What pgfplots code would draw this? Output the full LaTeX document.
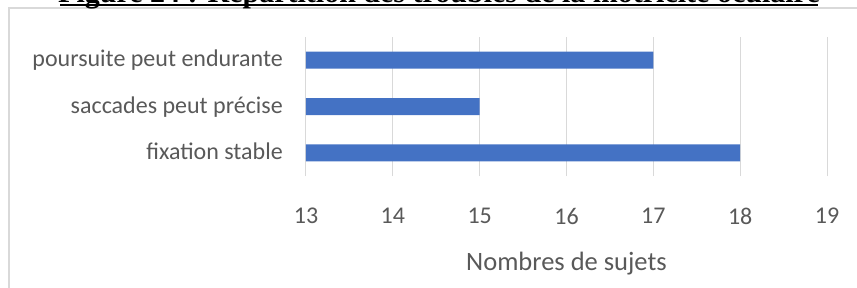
\documentclass[border=0pt]{standalone}
\usepackage{fontspec}
\setmainfont{Carlito}
\newfontfamily\titlefamily{Liberation Serif}
\usepackage{pgfplots}
\pgfplotsset{compat=1.18}
\definecolor{barblue}{HTML}{4472C4}
\definecolor{gridgray}{HTML}{D9D9D9}
\definecolor{textgray}{HTML}{595959}
\begin{document}
\begin{tikzpicture}[x=1pt,y=1pt]
\useasboundingbox (0,0) rectangle (857,287);
\clip (0,0) rectangle (857,287);
\draw[gridgray, line width=1.2pt] (9,-5) -- (9,279) -- (870,279);
\node[anchor=base, inner sep=0pt, font=\titlefamily\bfseries\fontsize{30}{34}\selectfont] at (439,284) {Figure 24 : Répartition des troubles de la motricité oculaire};
\fill[black] (60,281) rectangle (818,283);
\begin{axis}[
 at={(306pt,111pt)}, anchor=south west,
 scale only axis, width=521pt, height=139pt,
 xmin=13, xmax=19, ymin=-0.5, ymax=2.5,
 xtick={13,14,15,16,17,18,19}, ytick={0,1,2},
 yticklabels={{fixation stable\hspace{5.5pt}}, {saccades peut précise}, {poursuite peut endurante\hspace{5.5pt}}},
 xmajorgrids, grid style={gridgray, line width=1pt},
 axis line style={draw=none}, major tick length=0pt,
 tick label style={font=\fontsize{24}{28}\selectfont, text=textgray},
 /pgf/number format/assume math mode=true,
 xticklabel style={anchor=center, yshift=-40pt},
 yticklabel style={anchor=base east, inner sep=0pt, xshift=-23pt, yshift=-6.5pt},
 xlabel={Nombres de sujets},
 xlabel style={at={(axis description cs:0.5,0)}, anchor=base, yshift=-94pt, font=\fontsize{26.5}{30}\selectfont, text=textgray},
 xbar, bar width=17pt,
]
\addplot[fill=barblue, draw=none] coordinates {(18,0) (15,1) (17,2)};
\end{axis}
\end{tikzpicture}
\end{document}
